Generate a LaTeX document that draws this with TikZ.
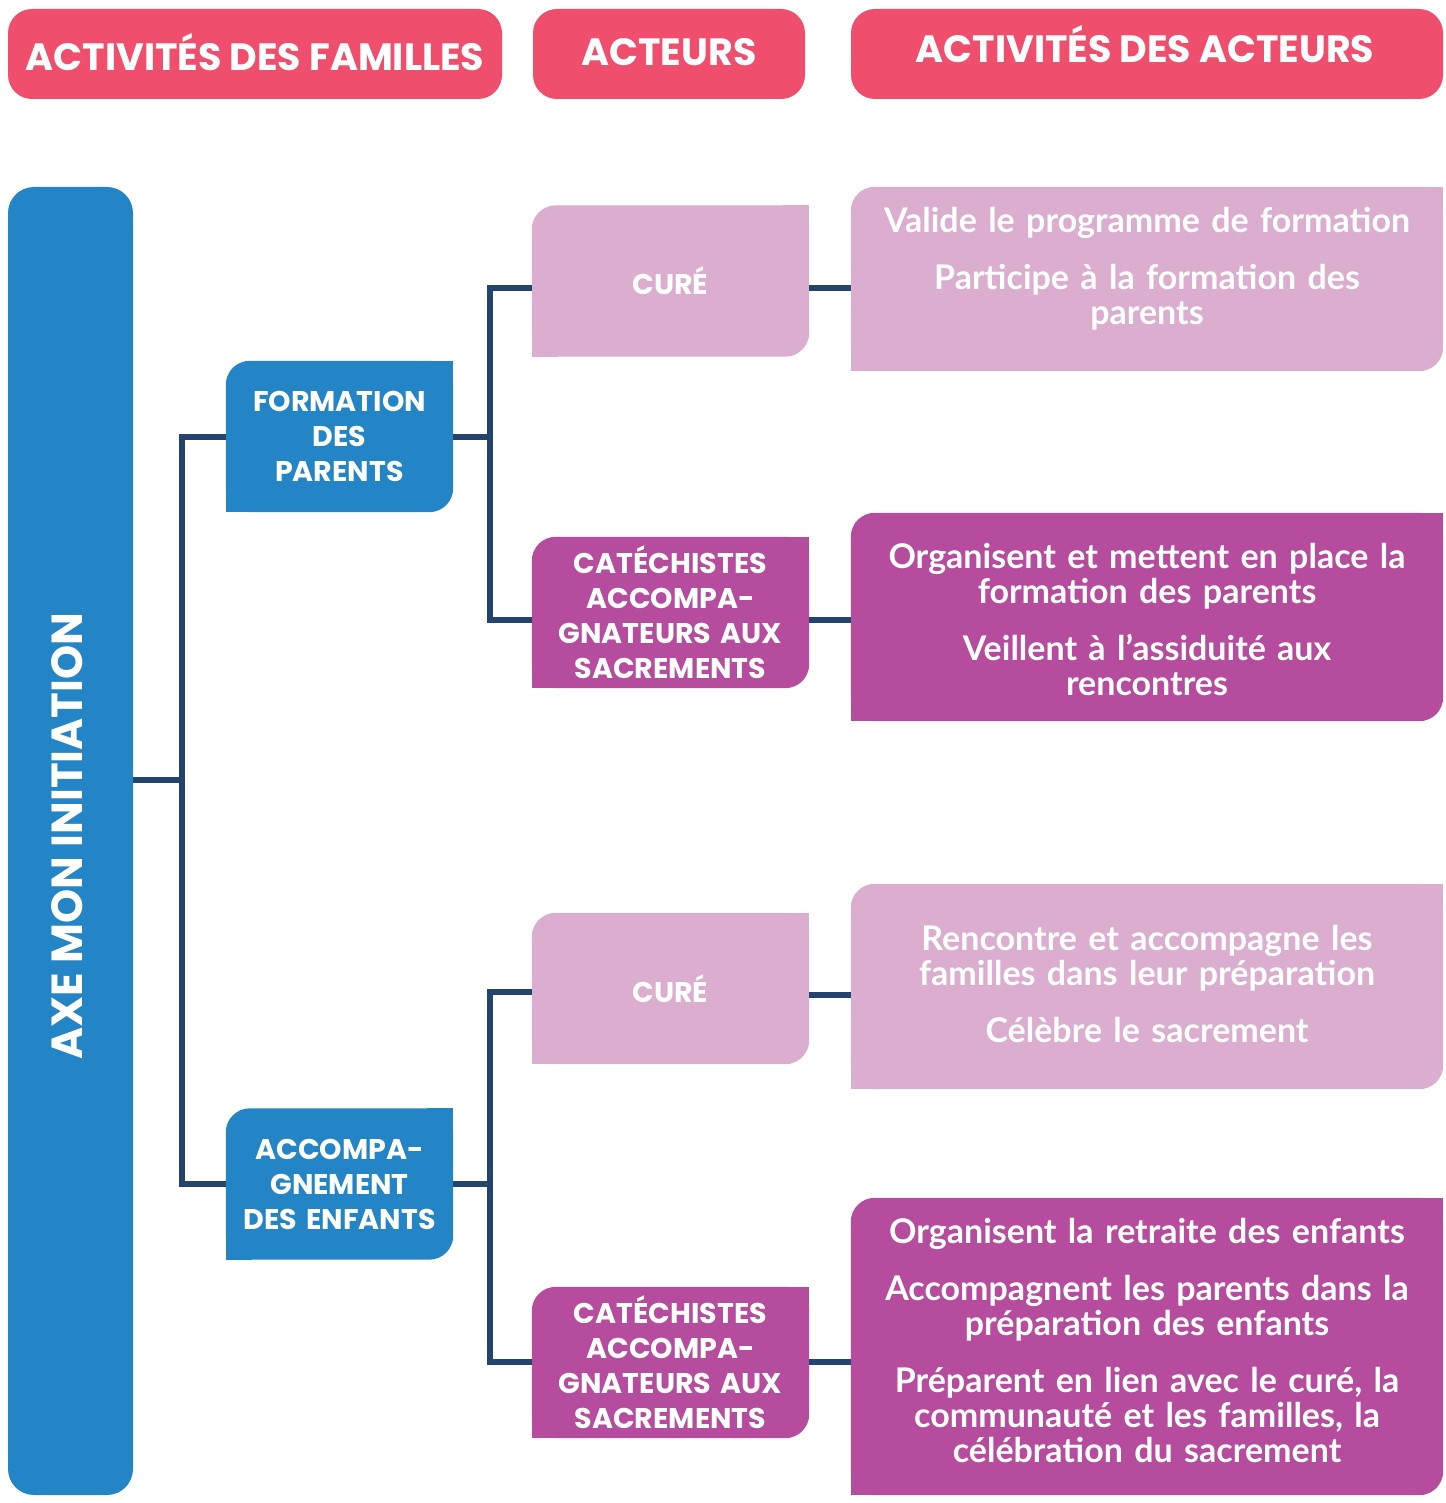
\documentclass[tikz,border=0pt]{standalone}
\usepackage{fontspec}
\setmainfont{Poppins}
\newfontfamily\actfont{Lato}
\usetikzlibrary{backgrounds}
\definecolor{hdr}{HTML}{EF4F6C}
\definecolor{axblue}{HTML}{2385C5}
\definecolor{lpink}{HTML}{DBADCF}
\definecolor{purp}{HTML}{B54C9D}
\definecolor{navy}{HTML}{22446E}
\newcommand{\tlbrbox}[2]{%
  \fill[#2,rounded corners=24pt] (#1.north west) rectangle (#1.south east);
  \fill[#2] (#1.north east) rectangle ++(-26pt,-26pt);
  \fill[#2] (#1.south west) rectangle ++(26pt,26pt);}
\begin{document}
\begin{tikzpicture}[x=1pt,y=-1pt,
  header/.style={fill=hdr,rounded corners=24pt,inner sep=0pt,minimum height=90pt},
  hdrtext/.style={text=white,font=\bfseries\fontsize{38}{42}\selectfont,inner sep=0pt},
  famille/.style={text=white,font=\bfseries\fontsize{28.5}{35}\selectfont,inner sep=0pt,minimum width=227pt,minimum height=151pt,text width=225pt,align=center},
  acteur/.style={text=white,font=\bfseries\fontsize{28.5}{35}\selectfont,inner sep=0pt,minimum width=277pt,minimum height=151pt,text width=275pt,align=center},
  activbox/.style={inner sep=0pt,minimum width=592pt},
  activ/.style={text=white,font=\actfont\bfseries\fontsize{34}{35}\selectfont,inner sep=0pt,text width=585pt,align=center},
  link/.style={navy,line width=6pt}]
\useasboundingbox (0,0) rectangle (1445,1503);
% headers
\node[header,minimum width=494pt] (h1) at (255,54) {};
\node[header,minimum width=272pt] (h2) at (669,54) {};
\node[header,minimum width=592pt] (h3) at (1147,54) {};
\node[hdrtext] (h1t) at (255,52) {ACTIVITÉS DES FAMILLES};
\node[hdrtext] (h2t) at (669,52) {ACTEURS};
\node[hdrtext] (h3t) at (1145,44) {ACTIVITÉS DES ACTEURS};
% axis
\node[fill=axblue,rounded corners=26pt,minimum width=125pt,minimum height=1308pt,inner sep=0pt] (axe) at (70.5,841) {};
\node[rotate=90,text=white,font=\bfseries\fontsize{43.5}{46}\selectfont] (axetxt) at (67,836) {AXE MON INITIATION};
% family activities
\node[famille] (fp) at (339.5,436.5) {FORMATION\\DES\\PARENTS};
\node[famille] (ae) at (339.5,1184) {ACCOMPA-\\GNEMENT\\DES ENFANTS};
% actors
\node[acteur] (c1) at (670.5,281) {CURÉ};
\node[acteur] (k1) at (670.5,612.5) {CATÉCHISTES\\ACCOMPA-\\GNATEURS AUX\\SACREMENTS};
\node[acteur] (c2) at (670.5,988.5) {CURÉ};
\node[acteur] (k2) at (670.5,1362.5) {CATÉCHISTES\\ACCOMPA-\\GNATEURS AUX\\SACREMENTS};
% actor activity boxes
\node[activbox,minimum height=184pt] (a1) at (1147,279) {};
\node[activbox,minimum height=208pt] (a2) at (1147,617) {};
\node[activbox,minimum height=205pt] (a3) at (1147,986.5) {};
\node[activbox,minimum height=297pt] (a4) at (1147,1346.5) {};
\begin{scope}[on background layer]
\tlbrbox{fp}{axblue}
\tlbrbox{ae}{axblue}
\tlbrbox{c1}{lpink}
\tlbrbox{k1}{purp}
\tlbrbox{c2}{lpink}
\tlbrbox{k2}{purp}
\tlbrbox{a1}{lpink}
\tlbrbox{a2}{purp}
\tlbrbox{a3}{lpink}
\tlbrbox{a4}{purp}
\end{scope}
% actor activity texts
\node[activ] (a1t) at ([yshift=10pt]a1.center) {Valide le programme de formation\\[22pt]Participe à la formation des\\parents};
\node[activ] (a2t) at ([yshift=-2.5pt]a2.center) {Organisent et mettent en place la\\formation des parents\\[22pt]Veillent à l’assiduité aux\\rencontres};
\node[activ] (a3t) at ([yshift=2.5pt]a3.center) {Rencontre et accompagne les\\familles dans leur préparation\\[22pt]Célèbre le sacrement};
\node[activ] (a4t) at ([yshift=6pt]a4.center) {Organisent la retraite des enfants\\[22pt]Accompagnent les parents dans la\\préparation des enfants\\[22pt]Préparent en lien avec le curé, la\\communauté et les familles, la\\célébration du sacrement};
% connectors
\coordinate (j0) at (182,780);
\coordinate (j1) at (490,436.5);
\coordinate (j2) at (490,1184);
\draw[link] (axe.east |- j0) -- (j0);
\draw[link] (fp.west) -| (j0) |- (ae.west);
\draw[link] (fp.east) -- (j1);
\draw[link] (c1.west |- 0,288) -| (j1) |- (k1.west |- 0,620);
\draw[link] (ae.east) -- (j2);
\draw[link] (c2.west |- 0,992) -| (j2) |- (k2.west |- 0,1362);
\draw[link] (c1.east |- 0,288) -- (a1.west |- 0,288);
\draw[link] (k1.east |- 0,620) -- (a2.west |- 0,620);
\draw[link] (c2.east |- 0,995) -- (a3.west |- 0,995);
\draw[link] (k2.east |- 0,1362) -- (a4.west |- 0,1362);
\end{tikzpicture}
\end{document}
